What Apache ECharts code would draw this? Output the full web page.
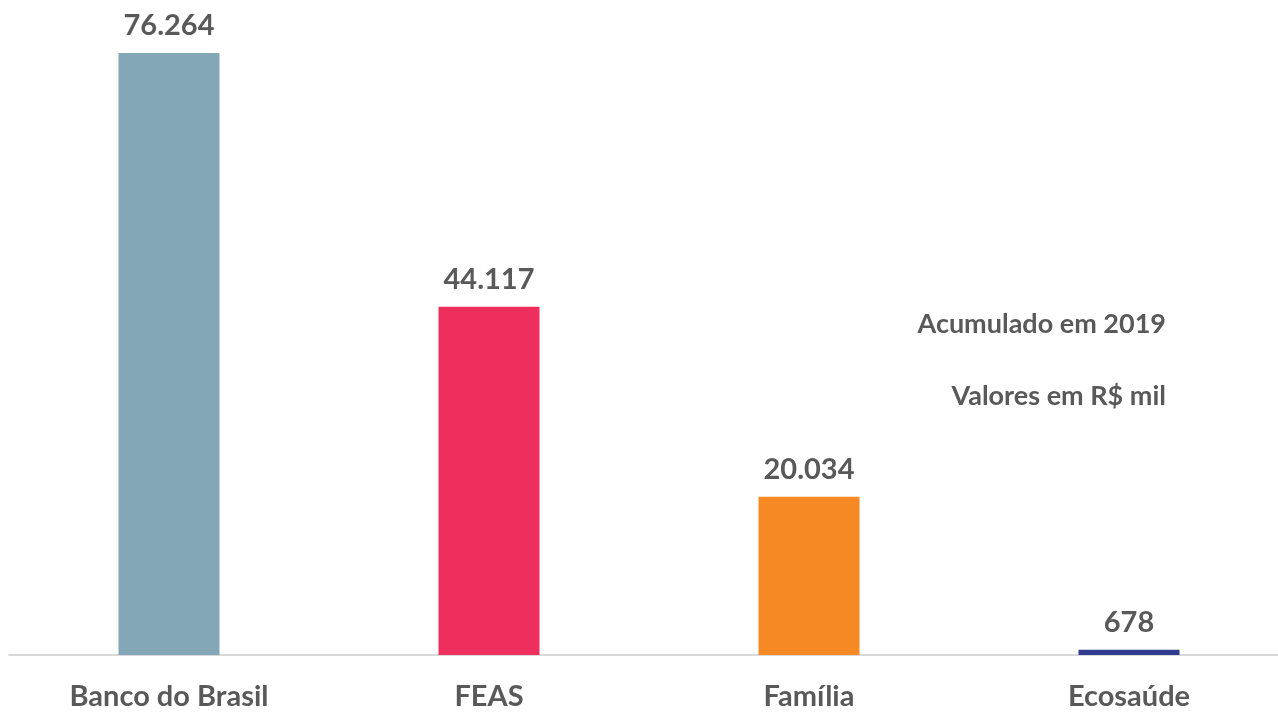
<!DOCTYPE html>
<html lang="pt">
<head>
    <meta charset="UTF-8">
    <title>Acumulado em 2019</title>
    <script src="https://cdn.jsdelivr.net/npm/echarts@6/dist/echarts.min.js"></script>
    <style>
        html, body { margin: 0; padding: 0; background: #fff; }
    </style>
</head>
<body>
<div id="main" style="width: 1278px;height:712px;"></div>
<script type="text/javascript">
    var categories = ['Banco do Brasil', 'FEAS', 'Família', 'Ecosaúde'];
    var values = [76264, 44117, 20034, 678];
    var barColors = ['#84a7b8', '#ee2e5d', '#f68924', '#2e3b8e'];

    var fontFam = 'Lato, "Open Sans", sans-serif';

    function fmt(v) {
        return String(v).replace(/\B(?=(\d{3})+(?!\d))/g, '.');
    }

    var myChart = echarts.init(document.getElementById('main'));

    var option = {
        animation: false,
        grid: { left: 9, width: 1280, top: 53, bottom: 57, outerBoundsMode: 'none', containLabel: false },
        xAxis: {
            type: 'category',
            data: categories,
            axisLine: { lineStyle: { color: '#d9d9d9', width: 2 } },
            axisTick: { show: false },
            axisLabel: {
                color: '#595959',
                fontSize: 29,
                fontWeight: 'bold',
                fontFamily: fontFam,
                margin: 27
            }
        },
        yAxis: {
            type: 'value',
            min: 0,
            max: 'dataMax',
            show: false,
            splitLine: { show: false }
        },
        series: [{
            type: 'bar',
            barWidth: 101,
            data: values.map(function (v, i) {
                return { value: v, itemStyle: { color: barColors[i] } };
            }),
            label: {
                show: true,
                position: 'top',
                distance: 13,
                color: '#595959',
                fontSize: 29,
                fontWeight: 'bold',
                fontFamily: fontFam,
                formatter: function (p) { return fmt(p.value); }
            }
        }],
        graphic: [
            {
                type: 'text', right: 112, top: 311,
                style: { text: 'Acumulado em 2019', fill: '#595959', font: 'bold 27px ' + fontFam }
            },
            {
                type: 'text', right: 112, top: 383,
                style: { text: 'Valores em R$ mil', fill: '#595959', font: 'bold 27px ' + fontFam }
            }
        ]
    };

    myChart.setOption(option);
</script>
</body>
</html>
